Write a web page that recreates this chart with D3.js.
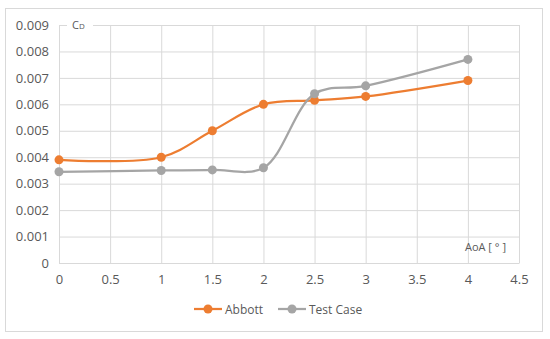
<!DOCTYPE html>
<html>
<head>
<meta charset="utf-8">
<script src="https://cdn.jsdelivr.net/npm/d3@7"></script>
<style>
  body { margin: 0; background: #fff; }
  text { font-family: "Open Sans", "Liberation Sans", sans-serif; fill: #595959; }
</style>
</head>
<body>
<div id="chart"></div>
<script>
// data
const aoa = [0, 1, 1.5, 2, 2.5, 3, 4];
const abbott = [0.0039, 0.0040, 0.0050, 0.0060, 0.00615, 0.0063, 0.0069];
const testCase = [0.00345, 0.0035, 0.00352, 0.0036, 0.0064, 0.0067, 0.0077];
const xTicks = [0, 0.5, 1, 1.5, 2, 2.5, 3, 3.5, 4, 4.5];
const yTicks = [0, 0.001, 0.002, 0.003, 0.004, 0.005, 0.006, 0.007, 0.008, 0.009];
const seriesNames = ['Abbott', 'Test Case'];
const seriesColors = ['#ed7d31', '#a5a5a5'];

const width = 550, height = 339;
const margin = { top: 25, right: 31, bottom: 76, left: 59 };
const innerW = width - margin.left - margin.right;
const innerH = height - margin.top - margin.bottom;

const svg = d3.select('#chart').append('svg')
  .attr('width', width)
  .attr('height', height);

// outer frame
svg.append('rect')
  .attr('x', 5.5).attr('y', 8.5)
  .attr('width', 537).attr('height', 323)
  .attr('fill', '#fff')
  .attr('stroke', '#d9d9d9');

const g = svg.append('g')
  .attr('transform', 'translate(' + margin.left + ',' + margin.top + ')');

const xScale = d3.scaleLinear().domain([0, 4.5]).range([0, innerW]);
const yScale = d3.scaleLinear().domain([0, 0.009]).range([innerH, 0]);

// grid
g.append('g')
  .attr('class', 'grid x-grid')
  .attr('transform', 'translate(0,' + innerH + ')')
  .call(d3.axisBottom(xScale).tickValues(xTicks).tickSize(-innerH).tickFormat(''))
  .call(s => s.select('.domain').remove())
  .selectAll('line').attr('stroke', '#d9d9d9');

g.append('g')
  .attr('class', 'grid y-grid')
  .call(d3.axisLeft(yScale).tickValues(yTicks).tickSize(-innerW).tickFormat(''))
  .call(s => s.select('.domain').remove())
  .selectAll('line').attr('stroke', '#d9d9d9');

// tick labels
const xAxis = g.append('g')
  .attr('transform', 'translate(0,' + innerH + ')')
  .call(d3.axisBottom(xScale).tickValues(xTicks).tickSize(0).tickPadding(12).tickFormat(d3.format('')));
xAxis.select('.domain').attr('stroke', '#d9d9d9');
xAxis.selectAll('text').attr('font-size', 13).attr('fill', '#595959')
  .style('font-family', '"Open Sans", sans-serif');

const yAxis = g.append('g')
  .call(d3.axisLeft(yScale).tickValues(yTicks).tickSize(0).tickPadding(10)
    .tickFormat(d => d === 0 ? '0' : d3.format('.3f')(d)));
yAxis.select('.domain').attr('stroke', '#d9d9d9');
yAxis.selectAll('text').attr('font-size', 13).attr('fill', '#595959')
  .style('font-family', '"Open Sans", sans-serif');

// axis titles
const cdLabel = g.append('g').attr('transform', 'translate(8,0)');
cdLabel.append('rect').attr('x', 0).attr('y', -6).attr('width', 26).attr('height', 12).attr('fill', '#fff');
const cdText = cdLabel.append('text').attr('x', 5).attr('y', 4).attr('font-size', 11);
cdText.append('tspan').text('C');
cdText.append('tspan').attr('font-size', 8).text('D');

g.append('text')
  .attr('x', innerW - 13).attr('y', innerH - 12)
  .attr('text-anchor', 'end')
  .attr('font-size', 11)
  .text('AoA [ ° ]');

// lines
const lineFunc = d3.line()
  .x(d => xScale(d[0]))
  .y(d => yScale(d[1]))
  .curve(d3.curveCatmullRom.alpha(0.5));

[abbott, testCase].forEach((vals, i) => {
  const pts = aoa.map((a, j) => [a, vals[j]]);
  g.append('path')
    .attr('d', lineFunc(pts))
    .attr('fill', 'none')
    .attr('stroke', seriesColors[i])
    .attr('stroke-width', 2.25);
  g.selectAll('.dot' + i).data(pts).enter().append('circle')
    .attr('class', 'dot' + i)
    .attr('cx', d => xScale(d[0]))
    .attr('cy', d => yScale(d[1]))
    .attr('r', 4.5)
    .attr('fill', seriesColors[i]);
});

// legend
const legendX = [194, 278];
seriesNames.forEach((name, i) => {
  const lg = svg.append('g').attr('transform', 'translate(' + legendX[i] + ',309)');
  lg.append('line').attr('x1', 0).attr('x2', 28).attr('y1', 0).attr('y2', 0)
    .attr('stroke', seriesColors[i]).attr('stroke-width', 2.25);
  lg.append('circle').attr('cx', 14).attr('cy', 0).attr('r', 4.5).attr('fill', seriesColors[i]);
  lg.append('text').attr('x', 31).attr('y', 4.5).attr('font-size', 12).text(name);
});
</script>
</body>
</html>
